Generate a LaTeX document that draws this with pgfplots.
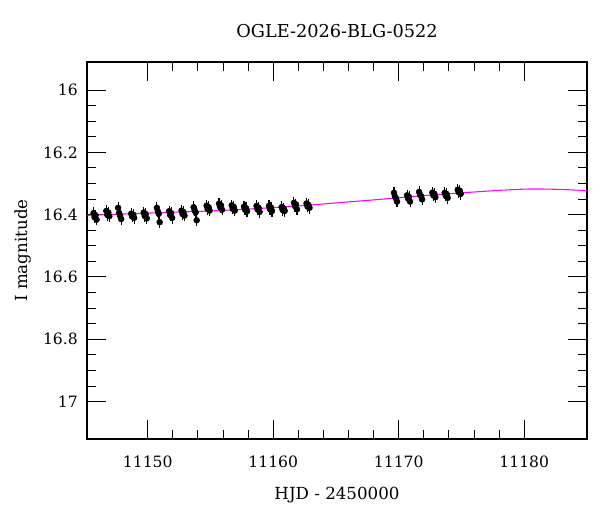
\documentclass[border=0pt]{standalone}
\usepackage{fontspec}
\setmainfont{DejaVu Serif}
\usepackage{pgfplots}
\usepackage{pgfplotstable}
\pgfplotsset{compat=1.18}
\definecolor{modelmag}{RGB}{255,0,255}

% OGLE photometry: HJD-2450000, I mag, error
\pgfplotstableread{
x y e
11145.68 16.395 0.009
11145.76 16.408 0.009
11145.84 16.402 0.009
11145.92 16.416 0.009
11146.70 16.388 0.009
11146.78 16.401 0.009
11146.86 16.393 0.009
11146.94 16.405 0.009
11147.64 16.378 0.009
11147.72 16.395 0.009
11147.80 16.404 0.009
11147.88 16.414 0.009
11148.68 16.397 0.009
11148.76 16.406 0.009
11148.84 16.400 0.009
11148.92 16.410 0.009
11149.68 16.393 0.009
11149.76 16.404 0.009
11149.84 16.398 0.009
11149.92 16.412 0.009
11150.73 16.378 0.009
11150.81 16.390 0.009
11150.88 16.397 0.009
11150.95 16.424 0.009
11151.70 16.389 0.009
11151.78 16.401 0.009
11151.86 16.395 0.009
11151.94 16.410 0.009
11152.69 16.387 0.009
11152.77 16.398 0.009
11152.85 16.392 0.009
11152.93 16.403 0.009
11153.66 16.376 0.009
11153.74 16.386 0.009
11153.82 16.393 0.009
11153.90 16.418 0.009
11154.69 16.371 0.009
11154.77 16.382 0.009
11154.85 16.376 0.009
11154.93 16.387 0.009
11155.68 16.365 0.009
11155.76 16.375 0.009
11155.84 16.370 0.009
11155.92 16.384 0.009
11156.69 16.370 0.009
11156.77 16.381 0.009
11156.85 16.375 0.009
11156.93 16.387 0.009
11157.67 16.374 0.009
11157.75 16.384 0.009
11157.83 16.379 0.009
11157.91 16.389 0.009
11158.67 16.372 0.009
11158.75 16.383 0.009
11158.83 16.378 0.009
11158.91 16.391 0.009
11159.66 16.372 0.009
11159.74 16.382 0.009
11159.82 16.377 0.009
11159.90 16.388 0.009
11160.67 16.376 0.009
11160.75 16.385 0.009
11160.83 16.380 0.009
11160.91 16.388 0.009
11161.65 16.362 0.009
11161.73 16.372 0.009
11161.81 16.367 0.009
11161.89 16.383 0.009
11162.65 16.364 0.009
11162.73 16.374 0.009
11162.81 16.369 0.009
11162.89 16.378 0.009
11169.62 16.330 0.009
11169.70 16.342 0.009
11169.78 16.348 0.009
11169.86 16.358 0.009
11170.66 16.338 0.009
11170.74 16.348 0.009
11170.82 16.343 0.009
11170.90 16.358 0.009
11171.62 16.327 0.009
11171.70 16.336 0.009
11171.78 16.341 0.009
11171.86 16.351 0.009
11172.68 16.329 0.009
11172.76 16.338 0.009
11172.84 16.333 0.009
11172.92 16.344 0.009
11173.66 16.330 0.009
11173.74 16.339 0.009
11173.82 16.334 0.009
11173.90 16.346 0.009
11174.70 16.320 0.009
11174.78 16.328 0.009
11174.86 16.323 0.009
11174.94 16.333 0.009
}\ogledata

% model curve
\pgfplotstableread{
x y
11145.2 16.402
11150.0 16.395
11155.0 16.388
11158.0 16.382
11162.0 16.372
11166.0 16.359
11170.0 16.346
11172.0 16.339
11175.0 16.330
11178.0 16.322
11180.0 16.318
11181.0 16.3175
11182.0 16.318
11183.5 16.320
11185.0 16.323
}\modeldata

\begin{document}
\begin{tikzpicture}
\path[use as bounding box] (0,0) rectangle (450pt,384pt);
\begin{axis}[
    at={(65.25pt,54.75pt)}, anchor=south west,
    scale only axis,
    width=375pt, height=282.75pt,
    xmin=11145.16, xmax=11185,
    ymin=15.91, ymax=17.12,
    y dir=reverse,
    scaled x ticks=false,
    scaled y ticks=false,
    xtick={11150,11160,11170,11180},
    xticklabels={11150,11160,11170,11180},
    ytick={16,16.2,16.4,16.6,16.8,17},
    yticklabels={16,16.2,16.4,16.6,16.8,17},
    minor x tick num=4,
    minor y tick num=3,
    tick align=inside,
    major tick length=14.6pt,
    minor tick length=7.1pt,
    axis line style={line width=1.2pt},
    tick style={line width=0.75pt, black},
    ticklabel style={font=\fontsize{11.7}{14}\selectfont},
    xticklabel style={yshift=-8.8pt},
    yticklabel style={xshift=-3.4pt},
    title={OGLE-2026-BLG-0522},
    title style={font=\fontsize{13.3}{16}\selectfont, at={(axis description cs:0.5,1)}, anchor=base, yshift=12.75pt},
    xlabel={HJD - 2450000},
    ylabel={I magnitude},
    label style={font=\fontsize{12.5}{15}\selectfont},
    xlabel style={at={(axis description cs:0.5,0)}, anchor=base, yshift=-45pt},
    ylabel style={at={(axis description cs:-0.12,0.5)}, anchor=base},
]
\addplot[only marks, mark=*, mark size=2.2pt, black,
    error bars/.cd, y dir=both, y explicit,
    error bar style={line width=0.8pt, black},
    error mark options={mark size=2.2pt, line width=0.8pt, black}]
    table[x=x, y=y, y error=e] {\ogledata};
\addplot[no marks, color=modelmag, line width=0.8pt, smooth] table[x=x, y=y] {\modeldata};
\end{axis}
\end{tikzpicture}
\end{document}
